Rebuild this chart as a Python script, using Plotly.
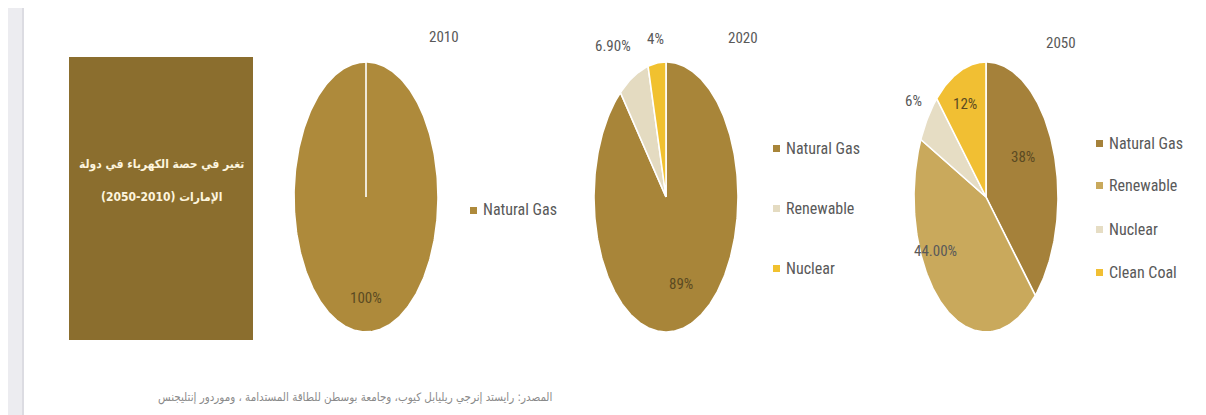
import numpy as np
import plotly.graph_objects as go

W, H = 1206, 415

# ---- data ----
years = ["2010", "2020", "2050"]

sources_2010 = ["Natural Gas"]
shares_2010 = [100]
label_decimals_2010 = [0]

sources_2020 = ["Natural Gas", "Renewable", "Nuclear"]
shares_2020 = [89, 6.9, 4]
label_decimals_2020 = [0, 2, 0]

sources_2050 = ["Natural Gas", "Renewable", "Nuclear", "Clean Coal"]
shares_2050 = [38, 44.0, 6, 12]
label_decimals_2050 = [0, 2, 0, 0]

title_lines = ["تغير في حصة الكهرباء في دولة", "الإمارات (2010‐2050)"]
source_note = "المصدر: رايستد إنرجي ريليابل كيوب، وجامعة بوسطن للطاقة المستدامة ، وموردور إنتليجنس"

# ---- styling ----
colors = {
    "2010": ["#ae8a3b"],
    "2020": ["#a88539", "#e4dbc1", "#f1c12f"],
    "2050": ["#a5813a", "#c9a95c", "#e6ddc4", "#f1bf33"],
}
box_color = "#8b6e2e"
TXT = "Liberation Sans Narrow, Roboto Condensed, Roboto, Arial"
AR = "DejaVu Sans Condensed, DejaVu Sans"
RLM = "\u200f"

# pixel placement of each pie (ellipse bounding box) and its legend
pie_boxes = {"2010": (294, 438, 62, 332), "2020": (594, 738, 62, 332), "2050": (914, 1058, 62, 332)}
year_pos = {"2010": (444, 37), "2020": (743, 38), "2050": (1061, 43)}
legend_pos = {
    "2010": (473, [210]),
    "2020": (776, [148, 208, 268]),
    "2050": (1099, [143, 185, 229, 272]),
}
# label placement: (radius factor, inside?, xshift, yshift)
label_place = {
    "2010": [(0.75, True, 0, 0)],
    "2020": [(0.70, True, -2, 2), (0.95, False, -22, 37), (0.95, False, -2, 31)],
    "2050": [(0.55, True, 0, 13), (0.60, False, -25, 12), (0.98, False, -15, 18), (0.70, True, -2, 5)],
}

series = {
    "2010": (sources_2010, shares_2010, label_decimals_2010),
    "2020": (sources_2020, shares_2020, label_decimals_2020),
    "2050": (sources_2050, shares_2050, label_decimals_2050),
}


def px_x(p):
    return p / W


def px_y(p):
    return 1 - p / H


fig = go.Figure()
annotations = []
shapes = []

# left grey strip
shapes.append(dict(type="rect", xref="paper", yref="paper", x0=px_x(8), x1=px_x(22), y0=0, y1=px_y(8),
                   fillcolor="#ececf0", line=dict(width=0), layer="below"))
shapes.append(dict(type="rect", xref="paper", yref="paper", x0=px_x(22), x1=px_x(24), y0=0, y1=px_y(8),
                   fillcolor="#dcdce2", line=dict(width=0), layer="below"))
# title box with one annotation per line
shapes.append(dict(type="rect", xref="paper", yref="paper", x0=px_x(69), x1=px_x(253), y0=px_y(340), y1=px_y(57),
                   fillcolor=box_color, line=dict(width=0), layer="below"))
for line, ty in zip(title_lines, [164, 197]):
    annotations.append(dict(xref="paper", yref="paper", x=px_x(161), y=px_y(ty), xanchor="center",
                            yanchor="middle", showarrow=False, text="<b>" + RLM + line + RLM + "</b>",
                            font=dict(family=AR, size=12, color="#fdf5de")))

for i, yr in enumerate(years):
    names, vals, decs = series[yr]
    ax_id = "" if i == 0 else str(i + 1)
    xa, ya = "x" + ax_id, "y" + ax_id
    x0, x1, y0, y1 = pie_boxes[yr]
    fig.update_layout({
        "xaxis" + ax_id: dict(domain=[px_x(x0), px_x(x1)], range=[-1.0, 1.0], visible=False, fixedrange=True),
        "yaxis" + ax_id: dict(domain=[px_y(y1), px_y(y0)], range=[-1.0, 1.0], visible=False, fixedrange=True),
    })
    total = float(sum(vals))
    start = 0.0
    for j, (nm, v) in enumerate(zip(names, vals)):
        frac = v / total
        a0, a1 = start * 2 * np.pi, (start + frac) * 2 * np.pi
        t = np.linspace(a0, a1, max(int(frac * 360), 2) + 1)
        xs = np.concatenate([[0], np.sin(t), [0]])
        ys = np.concatenate([[0], np.cos(t), [0]])
        fig.add_trace(go.Scatter(x=xs, y=ys, xaxis=xa, yaxis=ya, mode="lines", fill="toself",
                                 fillcolor=colors[yr][j], line=dict(color="white", width=1.6),
                                 hoverinfo="text", text=f"{nm}: {v}%", showlegend=False, cliponaxis=False))
        # data label
        r, inside, xs_, ys_ = label_place[yr][j]
        mid = (start + frac / 2) * 2 * np.pi
        annotations.append(dict(xref=xa, yref=ya, x=r * np.sin(mid), y=r * np.cos(mid),
                                xanchor="center", yanchor="middle",
                                text=f"{v:.{decs[j]}f}%", showarrow=False, xshift=xs_, yshift=ys_,
                                font=dict(family=TXT, size=15, color="#5b4a22" if inside else "#595959")))
        start += frac

    # year heading
    yx, yy = year_pos[yr]
    annotations.append(dict(xref="paper", yref="paper", x=px_x(yx), y=px_y(yy), xanchor="center",
                            yanchor="middle", text=yr, showarrow=False,
                            font=dict(family=TXT, size=15, color="#595959")))
    # legend entries
    lx, lys = legend_pos[yr]
    for j, nm in enumerate(names):
        ly = lys[j]
        shapes.append(dict(type="rect", xref="paper", yref="paper",
                           x0=px_x(lx - 3), x1=px_x(lx + 4), y0=px_y(ly + 4), y1=px_y(ly - 3),
                           fillcolor=colors[yr][j], line=dict(width=0)))
        annotations.append(dict(xref="paper", yref="paper", x=px_x(lx + 8), y=px_y(ly), xanchor="left",
                                yanchor="middle", text=nm, showarrow=False,
                                font=dict(family=TXT, size=16, color="#595959")))

# source note
annotations.append(dict(xref="paper", yref="paper", x=px_x(554), y=px_y(397), xanchor="right",
                        yanchor="middle", text=RLM + source_note + RLM, showarrow=False,
                        font=dict(family=AR, size=11.5, color="#8a8a8a")))

fig.update_layout(width=W, height=H, margin=dict(l=0, r=0, t=0, b=0), paper_bgcolor="white",
                  plot_bgcolor="rgba(0,0,0,0)", shapes=shapes, annotations=annotations, showlegend=False)

fig.write_html("out.html", config={"displayModeBar": False})
